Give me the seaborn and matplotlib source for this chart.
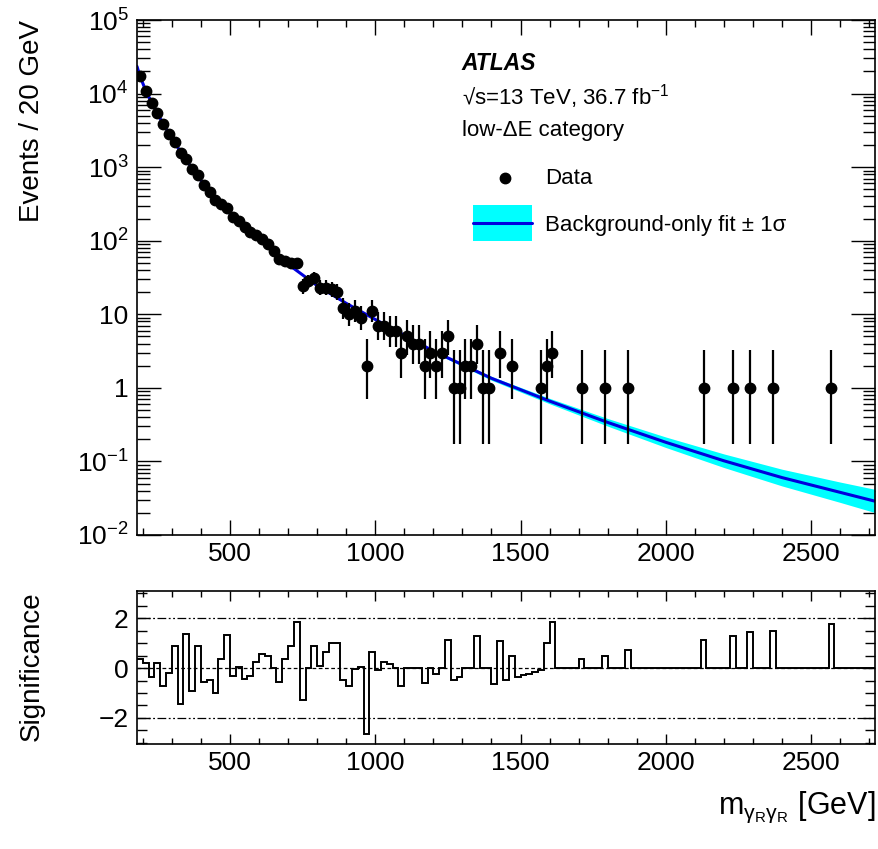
import math
import numpy as np
import matplotlib
matplotlib.use('Agg')
import matplotlib.pyplot as plt
import seaborn as sns
from matplotlib.patches import Rectangle
from matplotlib.ticker import (MultipleLocator, FixedLocator, LogLocator,
                               FuncFormatter, NullFormatter)

# 20 GeV bins from 180 to 2720 GeV
bin_start = 180
bin_width = 20

# events per bin (127 bins)
events = [
    17430, 10990, 7554, 5386, 3845, 2853, 2178, 1564, 1278, 931,
    772, 576, 458, 353, 316, 278, 213, 186, 152, 133,
    121, 107, 90, 72, 57, 53, 50, 50, 24, 28,
    31, 23, 23, 22, 20, 12, 10, 11, 9, 2,
    11, 7, 7, 6, 6, 3, 5, 4, 4, 2,
    3, 2, 3, 5, 1, 1, 2, 2, 4, 1,
    1, 0, 3, 0, 2, 0, 0, 0, 0, 1,
    2, 3, 0, 0, 0, 0, 1, 0, 0, 0,
    1, 0, 0, 0, 1, 0, 0, 0, 0, 0,
    0, 0, 0, 0, 0, 0, 0, 1, 0, 0,
    0, 0, 1, 0, 0, 1, 0, 0, 0, 1,
    0, 0, 0, 0, 0, 0, 0, 0, 0, 1,
    0, 0, 0, 0, 0, 0, 0,
]

# significance per bin (bottom panel)
significance = [
    0.38, 0.22, -0.37, 0.22, -0.72, -0.20, 0.87, -1.43, 1.37, -0.90,
    0.87, -0.54, -0.47, -1.00, 0.38, 1.32, -0.30, 0.03, -0.45, -0.30,
    0.24, 0.58, 0.50, 0.00, -0.57, 0.37, 0.87, 1.87, -1.28, 0.00,
    0.87, 0.07, 0.65, 1.02, 1.02, -0.48, -0.72, -0.04, 0.05, -2.65,
    0.65, -0.07, 0.24, 0.17, 0.00, -0.72, 0.00, 0.00, 0.00, -0.58,
    0.00, -0.22, 0.00, 1.15, -0.48, -0.35, 0.00, 0.00, 1.30, 0.00,
    0.00, -0.65, 1.08, -0.48, 0.50, -0.35, -0.29, -0.22, -0.16, -0.07,
    1.02, 1.87, 0.00, 0.00, 0.00, 0.00, 0.37, 0.00, 0.00, 0.00,
    0.50, 0.00, 0.00, 0.00, 0.72, 0.00, 0.00, 0.00, 0.00, 0.00,
    0.00, 0.00, 0.00, 0.00, 0.00, 0.00, 0.00, 1.15, 0.00, 0.00,
    0.00, 0.00, 1.28, 0.00, 0.00, 1.44, 0.00, 0.00, 0.00, 1.50,
    0.00, 0.00, 0.00, 0.00, 0.00, 0.00, 0.00, 0.00, 0.00, 1.78,
    0.00, 0.00, 0.00, 0.00, 0.00, 0.00, 0.00,
]

# background-only fit
fit_mass = [180, 190, 210, 230, 250, 270, 300, 350, 400, 450, 500, 550, 600,
            650, 700, 800, 900, 1000, 1200, 1400, 1600, 1800, 2000, 2200,
            2400, 2600, 2720]
fit_events = [23400, 17380, 10960, 7590, 5370, 3890, 2455, 1230, 661, 372,
              234, 158, 110, 72.4, 47.9, 24.5, 14.1, 8.51, 3.16, 1.35, 0.661,
              0.339, 0.182, 0.102, 0.0603, 0.0380, 0.0288]
# relative +1 sigma / -1 sigma band of the fit
fit_unc_up = [0.01, 0.01, 0.01, 0.01, 0.01, 0.01, 0.01, 0.01, 0.01, 0.01,
              0.01, 0.01, 0.01, 0.01, 0.01, 0.015, 0.02, 0.03, 0.04, 0.06,
              0.09, 0.13, 0.18, 0.24, 0.30, 0.38, 0.45]
fit_unc_down = [0.01, 0.01, 0.01, 0.01, 0.01, 0.01, 0.01, 0.01, 0.01, 0.01,
                0.01, 0.01, 0.01, 0.01, 0.01, 0.015, 0.02, 0.03, 0.04, 0.06,
                0.08, 0.11, 0.15, 0.19, 0.23, 0.27, 0.30]

y_major = [1e-2, 1e-1, 1, 10, 1e2, 1e3, 1e4, 1e5]


def poisson_cdf(k, mu):
    if mu <= 0:
        return 1.0
    return sum(math.exp(-mu + i * math.log(mu) - math.lgamma(i + 1)) for i in range(k + 1))


def poisson_interval(n, alpha=0.158655):
    """68% Garwood interval, like ROOT's kPoisson errors"""
    if n > 60:
        s = math.sqrt(n)
        return n - s, n + s
    lo = 0.0
    if n > 0:
        a, b = 0.0, float(n)
        for _ in range(60):
            m = 0.5 * (a + b)
            if 1 - poisson_cdf(n - 1, m) < alpha:
                a = m
            else:
                b = m
        lo = 0.5 * (a + b)
    a, b = float(n), n + 10 * math.sqrt(n) + 10
    for _ in range(60):
        m = 0.5 * (a + b)
        if poisson_cdf(n, m) > alpha:
            a = m
        else:
            b = m
    return lo, 0.5 * (a + b)


edges = bin_start + bin_width * np.arange(len(events) + 1)
centres = 0.5 * (edges[:-1] + edges[1:])
events = np.array(events)
mask = events > 0
x_data = centres[mask]
y_data = events[mask]
intervals = [poisson_interval(int(n)) for n in y_data]
err_lo = y_data - np.array([i[0] for i in intervals])
err_hi = np.array([i[1] for i in intervals]) - y_data

fit_mass = np.array(fit_mass, dtype=float)
fit_events = np.array(fit_events)
band_lo = fit_events * (1 - np.array(fit_unc_down))
band_hi = fit_events * (1 + np.array(fit_unc_up))

sns.set_theme(style='ticks')
plt.rcParams['font.family'] = ['Liberation Sans', 'DejaVu Sans']
plt.rcParams['mathtext.fontset'] = 'custom'
plt.rcParams['mathtext.rm'] = 'Liberation Sans'
plt.rcParams['mathtext.it'] = 'Liberation Sans:italic'
plt.rcParams['mathtext.bf'] = 'Liberation Sans:bold'
plt.rcParams['axes.linewidth'] = 1.2
plt.rcParams['axes.edgecolor'] = 'black'
plt.rcParams['text.color'] = 'black'
plt.rcParams['axes.labelcolor'] = 'black'
plt.rcParams['xtick.color'] = 'black'
plt.rcParams['ytick.color'] = 'black'

fig = plt.figure(figsize=(8.79, 8.49), dpi=100)
W, H = 879, 849
ax = fig.add_axes([137 / W, 1 - 535 / H, 738 / W, 515 / H])
axr = fig.add_axes([137 / W, 1 - 744 / H, 738 / W, 153 / H])

# main panel
ax.set_yscale('log')
ax.fill_between(fit_mass, band_lo, band_hi, color='#00ffff', lw=0, zorder=1)
sns.lineplot(x=fit_mass, y=fit_events, ax=ax, color='#0000dd', lw=2.2, zorder=2)
ax.errorbar(x_data, y_data, yerr=[err_lo, err_hi], fmt='o', color='black',
            ms=7.5, elinewidth=1.6, capsize=0, zorder=3)

ax.set_xlim(180, 2720)
ax.set_ylim(1e-2, 1e5)


def log_label(v, pos):
    e = int(round(math.log10(v)))
    if e == 0:
        return '1'
    if e == 1:
        return '10'
    return r'$\mathregular{10^{%d}}$' % e


ax.yaxis.set_major_locator(FixedLocator(y_major))
ax.yaxis.set_minor_locator(LogLocator(base=10, subs=np.arange(2, 10), numticks=20))
ax.yaxis.set_major_formatter(FuncFormatter(log_label))
ax.yaxis.set_minor_formatter(NullFormatter())

for a in (ax, axr):
    a.xaxis.set_major_locator(MultipleLocator(500))
    a.xaxis.set_minor_locator(MultipleLocator(100))
    a.tick_params(which='both', direction='in', top=True, right=True,
                  labelsize=19, width=1.0, colors='black')
    a.tick_params(axis='x', pad=5)

ax.tick_params(axis='y', which='major', length=17, pad=6)
ax.tick_params(axis='y', which='minor', length=9)
ax.tick_params(axis='x', which='major', length=11)
ax.tick_params(axis='x', which='minor', length=5)

ax.set_ylabel('Events / 20 GeV', fontsize=20, loc='top')
ax.yaxis.set_label_coords(-0.125, 1.0)

# labels and legend
ax.text(0.44, 0.9165, 'ATLAS', transform=ax.transAxes, fontsize=16.5,
        fontweight='bold', fontstyle='italic', va='center')
ax.text(0.44, 0.8505, r'√s=13 TeV, 36.7 fb$^{\mathregular{-1}}$', transform=ax.transAxes,
        fontsize=16, va='center')
ax.text(0.44, 0.7864, 'low-ΔE category', transform=ax.transAxes, fontsize=16, va='center')

ax.plot([0.4986], [0.6932], 'o', color='black', ms=7.5, transform=ax.transAxes)
ax.text(0.5528, 0.6932, 'Data', transform=ax.transAxes, fontsize=16, va='center')
ax.add_patch(Rectangle((0.4553, 0.5709), 0.0799, 0.0699, transform=ax.transAxes,
                       facecolor='#00ffff', edgecolor='none'))
ax.plot([0.4553, 0.5352], [0.6058, 0.6058], color='#0000dd', lw=2.2, transform=ax.transAxes)
ax.text(0.5528, 0.6, 'Background-only fit ± 1σ', transform=ax.transAxes,
        fontsize=16, va='center')

# significance panel
axr.axhline(2, color='black', lw=0.9, ls=(0, (7, 2, 1.5, 2, 1.5, 2)))
axr.axhline(-2, color='black', lw=0.9, ls=(0, (7, 2, 1.5, 2, 1.5, 2)))
axr.axhline(0, color='black', lw=0.9, ls=(0, (3, 2)))
axr.stairs(significance, edges, color='black', lw=1.4, baseline=None)
axr.set_xlim(180, 2720)
axr.set_ylim(-3.05, 3.1)
axr.yaxis.set_major_locator(FixedLocator([-2, 0, 2]))
axr.yaxis.set_minor_locator(MultipleLocator(0.5))
axr.tick_params(axis='y', which='major', length=9, pad=6)
axr.tick_params(axis='y', which='minor', length=7)
axr.tick_params(axis='x', which='major', length=7)
axr.tick_params(axis='x', which='minor', length=4)
axr.set_ylabel('Significance', fontsize=20, loc='top')
axr.yaxis.set_label_coords(-0.125, 1.0)
axr.set_xlabel(r'm$_{\mathregular{γ}_{\mathregular{R}}\mathregular{γ}_{\mathregular{R}}}$ [GeV]',
               fontsize=22, loc='right')
axr.xaxis.set_label_coords(1.0, -0.3)

fig.savefig('out.png', dpi=100)
